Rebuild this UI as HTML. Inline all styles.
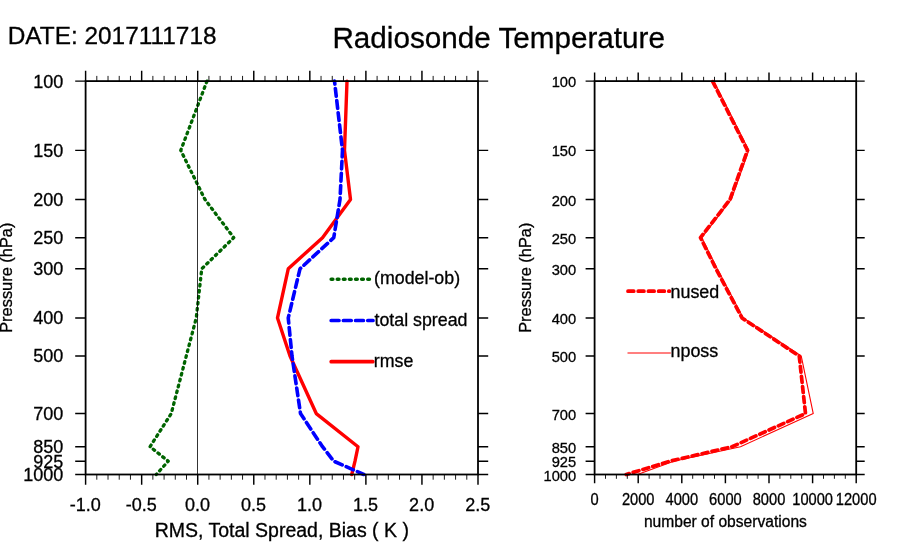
<!DOCTYPE html><html><head><meta charset="utf-8"><title>Radiosonde Temperature</title>
<style>html,body{margin:0;padding:0;background:#fff}body{width:900px;height:560px;overflow:hidden}svg{display:block;will-change:transform}text{font-family:"Liberation Sans",sans-serif;fill:#000;stroke:#000;stroke-width:0.3px}</style></head><body>
<svg width="900" height="560" viewBox="0 0 900 560">
<rect width="900" height="560" fill="#fff"/>
<polyline points="347.00,81.10 344.50,150.37 350.50,199.53 322.50,237.65 288.25,268.80 277.50,317.95 290.00,356.07 316.25,413.56 358.00,446.73 355.00,461.18 351.75,474.50" fill="none" stroke="#ff0000" stroke-width="3.4" stroke-linecap="round" stroke-linejoin="round"/>
<polyline points="334.50,81.10 342.50,150.37 340.00,199.53 333.75,237.65 300.00,268.80 288.25,317.95 292.00,356.07 300.50,413.56 322.50,446.73 333.75,461.18 363.80,474.50" fill="none" stroke="#0000ff" stroke-width="3.6" stroke-linecap="round" stroke-linejoin="round" stroke-dasharray="7.8 4.4" stroke-dashoffset="4.8"/>
<polyline points="207.00,81.10 180.75,150.37 205.00,199.53 233.75,237.65 201.75,268.80 196.25,317.95 186.25,356.07 171.25,413.56 150.00,446.73 168.25,461.18 156.25,474.50" fill="none" stroke="#006400" stroke-width="3.3" stroke-linecap="round" stroke-linejoin="round" stroke-dasharray="1.7 4.375"/>
<line x1="197.50" y1="81.1" x2="197.50" y2="474.5" stroke="#000" stroke-width="0.8"/>
<rect x="85.6" y="81.1" width="392.40" height="393.40" fill="none" stroke="#000" stroke-width="1.8"/>
<path d="M85.60 81.1v-10.3M85.60 474.5v10.3M141.66 81.1v-10.3M141.66 474.5v10.3M197.71 81.1v-10.3M197.71 474.5v10.3M253.77 81.1v-10.3M253.77 474.5v10.3M309.83 81.1v-10.3M309.83 474.5v10.3M365.89 81.1v-10.3M365.89 474.5v10.3M421.94 81.1v-10.3M421.94 474.5v10.3M478.00 81.1v-10.3M478.00 474.5v10.3M85.6 81.10h-10.4M478.0 81.10h10.2M85.6 150.37h-10.4M478.0 150.37h10.2M85.6 199.53h-10.4M478.0 199.53h10.2M85.6 237.65h-10.4M478.0 237.65h10.2M85.6 268.80h-10.4M478.0 268.80h10.2M85.6 317.95h-10.4M478.0 317.95h10.2M85.6 356.07h-10.4M478.0 356.07h10.2M85.6 413.56h-10.4M478.0 413.56h10.2M85.6 446.73h-10.4M478.0 446.73h10.2M85.6 461.18h-10.4M478.0 461.18h10.2M85.6 474.50h-10.4M478.0 474.50h10.2" stroke="#000" stroke-width="1.45" fill="none"/>
<path d="M96.81 81.1v-5.2M96.81 474.5v5.2M108.02 81.1v-5.2M108.02 474.5v5.2M119.23 81.1v-5.2M119.23 474.5v5.2M130.45 81.1v-5.2M130.45 474.5v5.2M152.87 81.1v-5.2M152.87 474.5v5.2M164.08 81.1v-5.2M164.08 474.5v5.2M175.29 81.1v-5.2M175.29 474.5v5.2M186.50 81.1v-5.2M186.50 474.5v5.2M208.93 81.1v-5.2M208.93 474.5v5.2M220.14 81.1v-5.2M220.14 474.5v5.2M231.35 81.1v-5.2M231.35 474.5v5.2M242.56 81.1v-5.2M242.56 474.5v5.2M264.98 81.1v-5.2M264.98 474.5v5.2M276.19 81.1v-5.2M276.19 474.5v5.2M287.41 81.1v-5.2M287.41 474.5v5.2M298.62 81.1v-5.2M298.62 474.5v5.2M321.04 81.1v-5.2M321.04 474.5v5.2M332.25 81.1v-5.2M332.25 474.5v5.2M343.46 81.1v-5.2M343.46 474.5v5.2M354.67 81.1v-5.2M354.67 474.5v5.2M377.10 81.1v-5.2M377.10 474.5v5.2M388.31 81.1v-5.2M388.31 474.5v5.2M399.52 81.1v-5.2M399.52 474.5v5.2M410.73 81.1v-5.2M410.73 474.5v5.2M433.15 81.1v-5.2M433.15 474.5v5.2M444.37 81.1v-5.2M444.37 474.5v5.2M455.58 81.1v-5.2M455.58 474.5v5.2M466.79 81.1v-5.2M466.79 474.5v5.2" stroke="#000" stroke-width="0.9" fill="none"/>
<path d="M331.2 279.3H369.5" stroke="#006400" stroke-width="3.6" stroke-linecap="round" stroke-dasharray="1.6 4.5" fill="none"/>
<path d="M331.2 320.5H373" stroke="#0000ff" stroke-width="3.7" stroke-linecap="round" stroke-dasharray="7.8 4.4" fill="none"/>
<path d="M331.2 361.7H372.8" stroke="#ff0000" stroke-width="3.7" stroke-linecap="round" fill="none"/>
<text x="374.1" y="284.3" font-size="17.8">(model-ob)</text>
<text x="374.5" y="325.8" font-size="17.8">total spread</text>
<text x="373.8" y="367.3" font-size="17.8">rmse</text>
<text transform="translate(63.20 87.50) scale(1 1)" font-size="18.0" text-anchor="end">100</text>
<text transform="translate(63.20 156.77) scale(1 1)" font-size="18.0" text-anchor="end">150</text>
<text transform="translate(63.20 205.93) scale(1 1)" font-size="18.0" text-anchor="end">200</text>
<text transform="translate(63.20 244.05) scale(1 1)" font-size="18.0" text-anchor="end">250</text>
<text transform="translate(63.20 275.20) scale(1 1)" font-size="18.0" text-anchor="end">300</text>
<text transform="translate(63.20 324.35) scale(1 1)" font-size="18.0" text-anchor="end">400</text>
<text transform="translate(63.20 362.47) scale(1 1)" font-size="18.0" text-anchor="end">500</text>
<text transform="translate(63.20 419.96) scale(1 1)" font-size="18.0" text-anchor="end">700</text>
<text transform="translate(63.20 453.13) scale(1 1)" font-size="18.0" text-anchor="end">850</text>
<text transform="translate(63.20 467.58) scale(1 1)" font-size="18.0" text-anchor="end">925</text>
<text transform="translate(63.20 480.90) scale(1 1)" font-size="18.0" text-anchor="end">1000</text>
<text transform="translate(85.30 510.50) scale(1 1)" font-size="18.0" text-anchor="middle">-1.0</text>
<text transform="translate(141.36 510.50) scale(1 1)" font-size="18.0" text-anchor="middle">-0.5</text>
<text transform="translate(197.41 510.50) scale(1 1)" font-size="18.0" text-anchor="middle">0.0</text>
<text transform="translate(253.47 510.50) scale(1 1)" font-size="18.0" text-anchor="middle">0.5</text>
<text transform="translate(309.53 510.50) scale(1 1)" font-size="18.0" text-anchor="middle">1.0</text>
<text transform="translate(365.59 510.50) scale(1 1)" font-size="18.0" text-anchor="middle">1.5</text>
<text transform="translate(421.64 510.50) scale(1 1)" font-size="18.0" text-anchor="middle">2.0</text>
<text transform="translate(477.70 510.50) scale(1 1)" font-size="18.0" text-anchor="middle">2.5</text>
<text x="281.8" y="537" font-size="19.5" text-anchor="middle">RMS, Total Spread, Bias ( K )</text>
<text transform="translate(11.5 277.7) rotate(-90)" font-size="16.4" text-anchor="middle">Pressure (hPa)</text>
<polyline points="713.80,81.10 748.80,150.37 731.30,199.53 701.80,237.65 717.30,268.80 743.30,317.95 801.25,356.07 813.25,413.56 740.50,446.73 673.75,461.18 637.50,474.50" fill="none" stroke="#ff0000" stroke-width="1.1" stroke-linejoin="round"/>
<polyline points="712.50,81.10 747.50,150.37 730.00,199.53 700.50,237.65 716.00,268.80 742.00,317.95 799.25,356.07 805.50,413.56 732.00,446.73 670.00,461.18 626.25,474.50" fill="none" stroke="#ff0000" stroke-width="3.7" stroke-linecap="round" stroke-linejoin="round" stroke-dasharray="6.0 4.2" stroke-dashoffset="9.6"/>
<rect x="594.6" y="81.1" width="261.60" height="393.40" fill="none" stroke="#000" stroke-width="1.8"/>
<path d="M594.60 81.1v-8.7M594.60 474.5v8.7M638.20 81.1v-8.7M638.20 474.5v8.7M681.80 81.1v-8.7M681.80 474.5v8.7M725.40 81.1v-8.7M725.40 474.5v8.7M769.00 81.1v-8.7M769.00 474.5v8.7M812.60 81.1v-8.7M812.60 474.5v8.7M856.20 81.1v-8.7M856.20 474.5v8.7M594.6 81.10h-9M856.2 81.10h8.5M594.6 150.37h-9M856.2 150.37h8.5M594.6 199.53h-9M856.2 199.53h8.5M594.6 237.65h-9M856.2 237.65h8.5M594.6 268.80h-9M856.2 268.80h8.5M594.6 317.95h-9M856.2 317.95h8.5M594.6 356.07h-9M856.2 356.07h8.5M594.6 413.56h-9M856.2 413.56h8.5M594.6 446.73h-9M856.2 446.73h8.5M594.6 461.18h-9M856.2 461.18h8.5M594.6 474.50h-9M856.2 474.50h8.5" stroke="#000" stroke-width="1.45" fill="none"/>
<path d="M605.50 81.1v-4.3M605.50 474.5v4.3M616.40 81.1v-4.3M616.40 474.5v4.3M627.30 81.1v-4.3M627.30 474.5v4.3M649.10 81.1v-4.3M649.10 474.5v4.3M660.00 81.1v-4.3M660.00 474.5v4.3M670.90 81.1v-4.3M670.90 474.5v4.3M692.70 81.1v-4.3M692.70 474.5v4.3M703.60 81.1v-4.3M703.60 474.5v4.3M714.50 81.1v-4.3M714.50 474.5v4.3M736.30 81.1v-4.3M736.30 474.5v4.3M747.20 81.1v-4.3M747.20 474.5v4.3M758.10 81.1v-4.3M758.10 474.5v4.3M779.90 81.1v-4.3M779.90 474.5v4.3M790.80 81.1v-4.3M790.80 474.5v4.3M801.70 81.1v-4.3M801.70 474.5v4.3M823.50 81.1v-4.3M823.50 474.5v4.3M834.40 81.1v-4.3M834.40 474.5v4.3M845.30 81.1v-4.3M845.30 474.5v4.3" stroke="#000" stroke-width="0.9" fill="none"/>
<path d="M628 291.2H669.4" stroke="#ff0000" stroke-width="3.75" stroke-linecap="round" stroke-dasharray="5.75 4.45" fill="none"/>
<path d="M627.5 353H670.8" stroke="#ff0000" stroke-width="1.1" fill="none"/>
<text x="670.5" y="297.5" font-size="17.9">nused</text>
<text x="670.5" y="356.5" font-size="17.9">nposs</text>
<text transform="translate(576.20 87.10) scale(0.955 1)" font-size="15.4" text-anchor="end">100</text>
<text transform="translate(576.20 156.37) scale(0.955 1)" font-size="15.4" text-anchor="end">150</text>
<text transform="translate(576.20 205.53) scale(0.955 1)" font-size="15.4" text-anchor="end">200</text>
<text transform="translate(576.20 243.65) scale(0.955 1)" font-size="15.4" text-anchor="end">250</text>
<text transform="translate(576.20 274.80) scale(0.955 1)" font-size="15.4" text-anchor="end">300</text>
<text transform="translate(576.20 323.95) scale(0.955 1)" font-size="15.4" text-anchor="end">400</text>
<text transform="translate(576.20 362.07) scale(0.955 1)" font-size="15.4" text-anchor="end">500</text>
<text transform="translate(576.20 419.56) scale(0.955 1)" font-size="15.4" text-anchor="end">700</text>
<text transform="translate(576.20 452.73) scale(0.955 1)" font-size="15.4" text-anchor="end">850</text>
<text transform="translate(576.20 467.18) scale(0.955 1)" font-size="15.4" text-anchor="end">925</text>
<text transform="translate(576.20 480.50) scale(0.955 1)" font-size="15.4" text-anchor="end">1000</text>
<text transform="translate(594.60 504.60) scale(0.94 1)" font-size="15.6" text-anchor="middle">0</text>
<text transform="translate(638.20 504.60) scale(0.94 1)" font-size="15.6" text-anchor="middle">2000</text>
<text transform="translate(681.80 504.60) scale(0.94 1)" font-size="15.6" text-anchor="middle">4000</text>
<text transform="translate(725.40 504.60) scale(0.94 1)" font-size="15.6" text-anchor="middle">6000</text>
<text transform="translate(769.00 504.60) scale(0.94 1)" font-size="15.6" text-anchor="middle">8000</text>
<text transform="translate(812.60 504.60) scale(0.94 1)" font-size="15.6" text-anchor="middle">10000</text>
<text transform="translate(856.20 504.60) scale(0.94 1)" font-size="15.6" text-anchor="middle">12000</text>
<text x="725.4" y="527" font-size="15.6" text-anchor="middle">number of observations</text>
<text transform="translate(530.9 277.7) rotate(-90)" font-size="16.4" text-anchor="middle">Pressure (hPa)</text>
<text x="7.7" y="44" font-size="24.4">DATE: 2017111718</text>
<text x="498.7" y="47.5" font-size="29.66" text-anchor="middle">Radiosonde Temperature</text>
</svg></body></html>
